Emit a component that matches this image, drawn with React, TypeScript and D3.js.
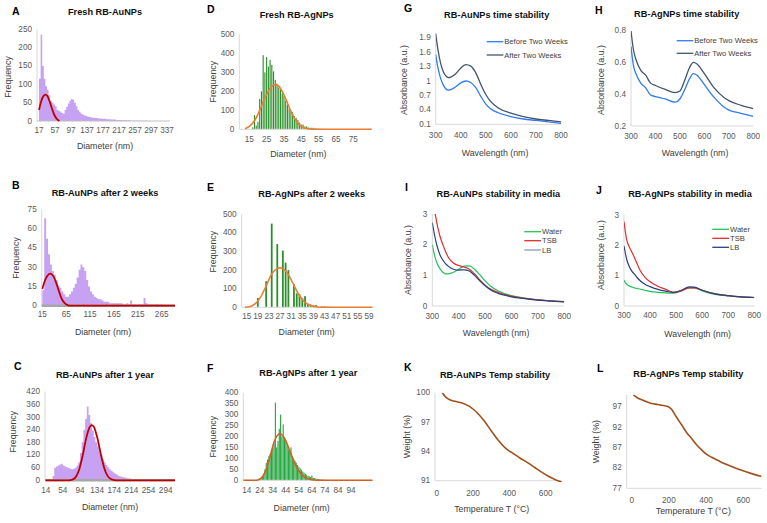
import React from 'react';
import * as d3 from 'd3';

const FONT = 'Liberation Sans, Arial, Helvetica, sans-serif';

// ---- size distributions (histogram counts) ----
// A: 4 nm bins from 17 nm
const aCounts = [115, 235, 150, 115, 95, 85, 70, 55, 50, 45, 40, 30, 28, 25, 22, 20, 30, 38, 48, 55, 60, 58, 50, 40, 30, 25, 20, 18, 15, 14, 12, 11, 10, 9, 9, 8, 8, 7, 7, 6, 6, 6, 5, 5, 5, 4, 4, 4, 3, 3, 3, 3, 2, 2, 2, 2, 2, 1, 1, 1, 1, 1, 1, 1, 1, 1, 1, 1, 0, 0, 0, 0, 0, 0, 0, 0, 0, 0, 0, 0];
// B: 4 nm bins from 15 nm
const bCounts = [12, 68, 52, 40, 32, 27, 24, 20, 16, 14, 11, 9, 7, 7, 9, 11, 14, 17, 22, 28, 32, 30, 27, 20, 15, 11, 9, 7, 6, 5, 5, 4, 3, 3, 3, 2, 2, 2, 2, 2, 2, 2, 1, 1, 2, 1, 4, 1, 1, 1, 1, 1, 1, 6, 2, 1, 1, 1, 1, 1, 1, 1, 1, 0, 0, 0, 0, 0, 0, 0];
// C: 4 nm bins from 14 nm
const cCounts = [0, 0, 0, 0, 20, 60, 65, 70, 75, 78, 70, 65, 62, 58, 55, 52, 55, 60, 70, 85, 130, 180, 240, 290, 350, 310, 270, 235, 205, 180, 160, 140, 120, 100, 85, 72, 62, 52, 45, 38, 32, 27, 22, 19, 16, 14, 12, 10, 9, 8, 6, 5, 4, 3, 3, 2, 2, 1, 1, 1, 0, 0, 0, 0, 0, 0, 0, 0, 0, 0, 0, 0, 0, 0, 0];
// D: 1 nm bins centred from 15 nm
const dCounts = [0, 0, 10, 75, 20, 40, 160, 200, 390, 300, 380, 330, 365, 340, 305, 260, 240, 220, 210, 190, 175, 150, 130, 110, 95, 90, 70, 60, 50, 35, 25, 25, 15, 15, 10, 8, 8, 8, 5, 5, 3, 3, 2, 2, 1, 1];
// E: 1 nm bins centred from 15 nm
const eCounts = [0, 0, 0, 0, 50, 0, 0, 140, 0, 450, 0, 340, 0, 305, 240, 200, 0, 125, 75, 70, 50, 60, 15, 15, 10, 12, 0, 5, 5, 3, 3, 2, 1, 1];
// F: 1 nm bins centred from 14 nm
const fCounts = [0, 0, 0, 0, 0, 0, 0, 0, 0, 2, 5, 10, 20, 30, 50, 80, 95, 110, 120, 140, 150, 170, 355, 150, 180, 235, 300, 200, 255, 195, 175, 160, 140, 130, 150, 110, 100, 90, 80, 70, 62, 55, 48, 40, 35, 30, 25, 20, 18, 15, 22, 12, 10, 8, 7, 6, 5, 4, 3, 3, 2, 2, 1, 1, 1];

// fitted normal curves as [diameter, frequency]
const aFit = [[17, 30], [22, 52], [27, 66], [33, 72], [38, 68], [44, 52], [50, 32], [56, 15], [62, 5], [68, 0]];
const bFit = [[15, 13], [20, 19], [25, 23], [32, 25], [38, 23], [44, 18], [50, 11], [56, 5], [62, 2], [68, 0.5], [74, 0], [294, 0]];
const cFit = [[14, 0], [68, 0], [76, 3], [84, 15], [92, 50], [100, 115], [108, 195], [116, 250], [121, 262], [126, 255], [134, 205], [142, 130], [150, 62], [158, 22], [166, 6], [174, 1], [182, 0], [316, 0]];
const dFit = [[12.5, 3], [15, 15], [18, 45], [21, 100], [24, 165], [27, 215], [30, 235], [33, 215], [36, 160], [39, 95], [42, 45], [45, 15], [48, 4], [51, 0], [86, 0]];
const eFit = [[14.4, 0], [16, 3], [18, 18], [20, 55], [22, 115], [24, 180], [26, 208], [27, 212], [28, 208], [30, 175], [32, 118], [34, 62], [36, 27], [38, 10], [40, 3], [42, 0], [60.3, 0]];
const fFit = [[11.4, 0], [20, 0], [23, 3], [26, 15], [29, 50], [32, 110], [35, 175], [38, 208], [39.5, 212], [41, 208], [44, 180], [47, 135], [50, 90], [53, 52], [56, 27], [59, 12], [62, 5], [65, 2], [68, 0], [110.6, 0]];

// ---- UV-vis spectra ----
const gWave = [300, 310, 320, 330, 340, 350, 360, 380, 400, 420, 440, 460, 480, 500, 520, 550, 600, 650, 700, 750, 800];
const gBefore = [1.55, 1.25, 1.05, 0.92, 0.84, 0.81, 0.82, 0.88, 0.96, 1.0, 0.97, 0.86, 0.68, 0.52, 0.42, 0.34, 0.26, 0.21, 0.18, 0.15, 0.12];
const gAfter = [1.98, 1.62, 1.36, 1.2, 1.11, 1.07, 1.08, 1.15, 1.27, 1.34, 1.31, 1.17, 0.93, 0.72, 0.57, 0.44, 0.33, 0.26, 0.21, 0.18, 0.15];

const hWave = [300, 310, 320, 340, 360, 380, 400, 440, 480, 500, 520, 540, 555, 570, 600, 640, 680, 700, 750, 800];
const hBefore = [0.7, 0.58, 0.53, 0.47, 0.44, 0.395, 0.385, 0.37, 0.35, 0.37, 0.43, 0.5, 0.53, 0.52, 0.46, 0.38, 0.32, 0.3, 0.28, 0.26];
const hAfter = [0.8, 0.68, 0.62, 0.55, 0.52, 0.47, 0.455, 0.43, 0.41, 0.42, 0.49, 0.57, 0.6, 0.59, 0.53, 0.44, 0.38, 0.36, 0.33, 0.31];

const iWave = [300, 310, 320, 330, 340, 350, 360, 380, 400, 420, 440, 460, 480, 500, 520, 550, 600, 650, 700, 750, 800];
const iWater = [2.0, 1.6, 1.35, 1.2, 1.1, 1.05, 1.05, 1.1, 1.2, 1.3, 1.31, 1.2, 1.02, 0.82, 0.65, 0.49, 0.34, 0.26, 0.2, 0.17, 0.14];
const iTsb = [3.6, 3.05, 2.6, 2.25, 2.0, 1.78, 1.6, 1.4, 1.32, 1.27, 1.2, 1.05, 0.85, 0.68, 0.55, 0.44, 0.32, 0.25, 0.2, 0.17, 0.14];
const iLb = [2.72, 2.25, 1.9, 1.65, 1.5, 1.38, 1.3, 1.2, 1.17, 1.18, 1.14, 1.0, 0.82, 0.66, 0.53, 0.41, 0.3, 0.24, 0.19, 0.16, 0.13];

const jWave = [300, 310, 320, 330, 340, 350, 360, 380, 400, 430, 460, 490, 520, 550, 570, 600, 650, 700, 750, 800];
const jWater = [0.85, 0.72, 0.66, 0.63, 0.6, 0.58, 0.56, 0.52, 0.48, 0.45, 0.43, 0.42, 0.5, 0.6, 0.6, 0.5, 0.38, 0.33, 0.3, 0.28];
const jTsb = [2.78, 2.2, 1.95, 1.78, 1.6, 1.4, 1.2, 0.95, 0.8, 0.65, 0.55, 0.45, 0.5, 0.6, 0.6, 0.52, 0.4, 0.34, 0.3, 0.28];
const jLb = [1.98, 1.55, 1.3, 1.15, 1.05, 0.94, 0.85, 0.72, 0.64, 0.55, 0.49, 0.45, 0.52, 0.63, 0.62, 0.52, 0.4, 0.34, 0.3, 0.28];

// ---- thermogravimetry ----
const kTemp = [31, 50, 75, 100, 140, 180, 220, 260, 300, 340, 380, 420, 460, 500, 540, 580, 620, 660, 690];
const kWeight = [100, 99.55, 99.25, 99.12, 98.95, 98.6, 98.0, 97.15, 96.1, 95.1, 94.3, 93.8, 93.3, 92.85, 92.35, 91.85, 91.4, 91.05, 90.85];
const lTemp = [9, 30, 54, 80, 107, 140, 170, 197, 215, 233, 250, 269, 295, 322, 350, 376, 403, 430, 465, 501, 545, 591, 645, 698];
const lWeight = [99.9, 99.2, 98.7, 98.2, 97.8, 97.55, 97.3, 97.0, 96.3, 95.0, 93.8, 92.5, 90.7, 89.2, 87.6, 86.4, 85.3, 84.6, 83.8, 83.0, 82.2, 81.4, 80.6, 79.9];

const range = (a: number, b: number, s: number) => d3.range(a, b + s / 2, s);

const PURPLE = '#c8a2f2';
const RED = '#c00000';
const ORANGE = '#ed7d31';
const BLUE = '#2f7bf5';
const SLATE = '#44546a';
const GREEN_L = '#22c25a';
const RED_L = '#e32b2b';
const NAVY = '#27417f';
const BROWN = '#a0501c';

type Pt = number[];
interface Series { pts: Pt[]; color: string; width: number }
interface Hist { counts: number[]; start: number; width: number; fill: string; kind: 'area' | 'bar'; frac?: number }
interface Spec {
  id: string;
  letter: string; letterPos: [number, number];
  title: string; titlePos: [number, number];
  xd: [number, number]; xr: [number, number];
  yd: [number, number]; yr: [number, number];
  axisL: number; axisR: number; yTop?: number;
  xTicks: number[]; yTicks: number[];
  xTickY: number;
  xTitle: string; xTitlePos: [number, number];
  yTitle: string; yTitlePos: [number, number];
  base?: { color: string; width: number };
  hist?: Hist;
  lines: Series[];
  legend?: { x0: number; x1: number; rows: number[]; labels: string[]; colors: string[] };
}

const zip = (xs: number[], ys: number[]) => xs.map((x, i) => [x, ys[i]]);
const fmt = (v: number) => String(+v.toFixed(1));

function Panel({ s }: { s: Spec }) {
  const x = d3.scaleLinear().domain(s.xd).range(s.xr);
  const y = d3.scaleLinear().domain(s.yd).range(s.yr);
  const bottom = s.yr[0];
  const top = y(s.yTop ?? s.yd[1]);
  const line = d3.line<Pt>().x((d) => x(d[0])).y((d) => y(d[1])).curve(d3.curveMonotoneX);
  const h = s.hist;

  let histMarks: React.ReactNode = null;
  if (h && h.kind === 'area') {
    // continuous step outline so narrow bins read as one filled shape
    const steps = [...h.counts, 0].map((c, i) => [h.start + i * h.width, c]);
    const area = d3.area<Pt>().x((d) => x(d[0])).y0(bottom).y1((d) => y(d[1])).curve(d3.curveStepAfter);
    histMarks = <path d={area(steps) ?? ''} fill={h.fill} />;
  } else if (h) {
    const half = (h.frac ?? 0.64) / 2;
    histMarks = h.counts.map((c, i) => {
      if (!c) return null;
      const cx = h.start + i * h.width;
      const x0 = x(cx - h.width * half);
      const x1 = x(cx + h.width * half);
      return <rect key={i} x={x0} width={x1 - x0} y={y(c)} height={bottom - y(c)} fill={h.fill} />;
    });
  }

  return (
    <g fontFamily={FONT}>
      <defs>
        <clipPath id={`clip-${s.id}`}>
          <rect x={s.axisL} y={top} width={s.axisR - s.axisL} height={bottom - top + 1.5} />
        </clipPath>
      </defs>
      <text x={s.letterPos[0]} y={s.letterPos[1]} fontSize={10.5} fontWeight="bold" fill="#000">{s.letter}</text>
      <text x={s.titlePos[0]} y={s.titlePos[1]} fontSize={9.2} fontWeight="bold" fill="#111" textAnchor="middle">{s.title}</text>
      <line x1={s.axisL} x2={s.axisL} y1={top} y2={bottom} stroke="#d9d9d9" />
      {histMarks}
      <line x1={s.axisL} x2={s.axisR} y1={bottom} y2={bottom} stroke={s.base?.color ?? '#d9d9d9'} strokeWidth={s.base?.width ?? 1} />
      <g clipPath={`url(#clip-${s.id})`}>
        {s.lines.map((l, i) => (
          <path key={i} d={line(l.pts) ?? ''} fill="none" stroke={l.color} strokeWidth={l.width} strokeLinejoin="round" />
        ))}
      </g>
      {s.yTicks.map((t) => (
        <text key={t} x={s.axisL - 5} y={y(t)} fontSize={8.2} fill="#595959" textAnchor="end" dominantBaseline="central">{fmt(t)}</text>
      ))}
      {s.xTicks.map((t) => (
        <text key={t} x={x(t)} y={s.xTickY} fontSize={8.2} fill="#595959" textAnchor="middle">{t}</text>
      ))}
      <text x={s.xTitlePos[0]} y={s.xTitlePos[1]} fontSize={8.8} fill="#404040" textAnchor="middle">{s.xTitle}</text>
      <text transform={`translate(${s.yTitlePos[0]},${s.yTitlePos[1]}) rotate(-90)`} fontSize={8.8} fill="#404040" textAnchor="middle" dominantBaseline="central">{s.yTitle}</text>
      {s.legend && s.legend.labels.map((lab, i) => (
        <g key={lab}>
          <line x1={s.legend!.x0} x2={s.legend!.x1} y1={s.legend!.rows[i]} y2={s.legend!.rows[i]} stroke={s.legend!.colors[i]} strokeWidth={1.3} />
          <text x={s.legend!.x1 + 1} y={s.legend!.rows[i]} fontSize={7.6} fill="#404040" dominantBaseline="central">{lab}</text>
        </g>
      ))}
    </g>
  );
}

const specs: Spec[] = [
  {
    id: 'A', letter: 'A', letterPos: [12, 15], title: 'Fresh RB-AuNPs', titlePos: [105, 15],
    xd: [17, 337], xr: [39, 167], yd: [0, 250], yr: [121, 29.3], axisL: 37, axisR: 170,
    xTicks: range(17, 337, 40), yTicks: range(0, 250, 50), xTickY: 133,
    xTitle: 'Diameter (nm)', xTitlePos: [105, 149], yTitle: 'Frequency', yTitlePos: [8, 77],
    base: { color: '#bfbfbf', width: 1 },
    hist: { counts: aCounts, start: 17, width: 4, fill: PURPLE, kind: 'area' },
    lines: [{ pts: aFit, color: RED, width: 1.8 }],
  },
  {
    id: 'B', letter: 'B', letterPos: [12, 189], title: 'RB-AuNPs after 2 weeks', titlePos: [105, 196],
    xd: [15, 265], xr: [42.3, 161.7], yd: [0, 75], yr: [305.7, 209.3], axisL: 41.7, axisR: 175,
    xTicks: range(15, 265, 50), yTicks: range(0, 75, 15), xTickY: 316.7,
    xTitle: 'Diameter (nm)', xTitlePos: [103, 335], yTitle: 'Frequency', yTitlePos: [15.5, 258],
    base: { color: '#a6a6a6', width: 2.5 },
    hist: { counts: bCounts, start: 15, width: 4, fill: PURPLE, kind: 'area' },
    lines: [{ pts: bFit, color: RED, width: 1.8 }],
  },
  {
    id: 'C', letter: 'C', letterPos: [14, 370], title: 'RB-AuNPs after 1 year', titlePos: [105, 378.3],
    xd: [14, 294], xr: [45.7, 165.7], yd: [0, 420], yr: [480.3, 391.7], axisL: 45, axisR: 175,
    xTicks: range(14, 294, 40), yTicks: range(0, 420, 60), xTickY: 493.3,
    xTitle: 'Diameter (nm)', xTitlePos: [110, 510], yTitle: 'Frequency', yTitlePos: [13.3, 431.7],
    base: { color: '#a6a6a6', width: 2.5 },
    hist: { counts: cCounts, start: 14, width: 4, fill: PURPLE, kind: 'area' },
    lines: [{ pts: cFit, color: RED, width: 1.8 }],
  },
  {
    id: 'D', letter: 'D', letterPos: [207, 12.7], title: 'Fresh RB-AgNPs', titlePos: [296.7, 18.3],
    xd: [15, 75], xr: [249.3, 353.3], yd: [0, 500], yr: [129.3, 34.3], axisL: 239.3, axisR: 371.7,
    xTicks: range(15, 75, 10), yTicks: range(0, 500, 100), xTickY: 141.7,
    xTitle: 'Diameter (nm)', xTitlePos: [298.3, 156.7], yTitle: 'Frequency', yTitlePos: [213.3, 81.7],
    hist: { counts: dCounts, start: 15, width: 1, fill: '#2a8f2a', kind: 'bar' },
    lines: [{ pts: dFit, color: ORANGE, width: 1.6 }],
  },
  {
    id: 'E', letter: 'E', letterPos: [207, 190.7], title: 'RB-AgNPs after 2 weeks', titlePos: [311.7, 197.3],
    xd: [15, 59], xr: [246.7, 369], yd: [0, 500], yr: [307.3, 214.3], axisL: 241.7, axisR: 372.7,
    xTicks: range(15, 59, 4), yTicks: range(0, 500, 100), xTickY: 319.3,
    xTitle: 'Diameter (nm)', xTitlePos: [306.7, 335], yTitle: 'Frequency', yTitlePos: [212.7, 251.7],
    hist: { counts: eCounts, start: 15, width: 1, fill: '#2a8f2a', kind: 'bar' },
    lines: [{ pts: eFit, color: ORANGE, width: 1.6 }],
  },
  {
    id: 'F', letter: 'F', letterPos: [207, 371.7], title: 'RB-AgNPs after 1 year', titlePos: [308.3, 375.7],
    xd: [14, 94], xr: [246.7, 351], yd: [0, 400], yr: [480.3, 392.7], axisL: 243.3, axisR: 372.7,
    xTicks: range(14, 94, 10), yTicks: range(0, 400, 50), xTickY: 493.3,
    xTitle: 'Diameter (nm)', xTitlePos: [301.7, 511], yTitle: 'Frequency', yTitlePos: [213.3, 436.7],
    hist: { counts: fCounts, start: 14, width: 1, fill: '#25a641', kind: 'bar', frac: 0.85 },
    lines: [{ pts: fFit, color: '#d2601f', width: 1.6 }],
  },
  {
    id: 'G', letter: 'G', letterPos: [404, 11.7], title: 'RB-AuNPs time stability', titlePos: [496.7, 18.3],
    xd: [300, 800], xr: [435.7, 561], yd: [0.1, 1.9], yr: [124.3, 37.7], axisL: 435.7, axisR: 561, yTop: 2.0,
    xTicks: range(300, 800, 100), yTicks: range(0.1, 1.9, 0.3), xTickY: 137.7,
    xTitle: 'Wavelength (nm)', xTitlePos: [495, 155.7], yTitle: 'Absorbance (a.u.)', yTitlePos: [404.3, 80],
    lines: [
      { pts: zip(gWave, gBefore), color: BLUE, width: 1.3 },
      { pts: zip(gWave, gAfter), color: SLATE, width: 1.3 },
    ],
    legend: { x0: 486.7, x1: 503.3, rows: [41.7, 55], labels: ['Before Two Weeks', 'After Two Weeks'], colors: [BLUE, SLATE] },
  },
  {
    id: 'H', letter: 'H', letterPos: [595, 14], title: 'RB-AgNPs time stability', titlePos: [686.7, 17.3],
    xd: [300, 800], xr: [631, 753.3], yd: [0.2, 0.8], yr: [126, 30.7], axisL: 631, axisR: 753.3,
    xTicks: range(300, 800, 100), yTicks: range(0.2, 0.8, 0.2), xTickY: 139.3,
    xTitle: 'Wavelength (nm)', xTitlePos: [695, 155.7], yTitle: 'Absorbance (a.u.)', yTitlePos: [601, 80],
    lines: [
      { pts: zip(hWave, hBefore), color: BLUE, width: 1.3 },
      { pts: zip(hWave, hAfter), color: SLATE, width: 1.3 },
    ],
    legend: { x0: 676.7, x1: 693.3, rows: [40.7, 53.3], labels: ['Before Two Weeks', 'After Two Weeks'], colors: [BLUE, SLATE] },
  },
  {
    id: 'I', letter: 'I', letterPos: [405, 190.7], title: 'RB-AuNPs stability in media', titlePos: [498.3, 197.3],
    xd: [300, 800], xr: [432.3, 564.3], yd: [0, 3], yr: [306, 214], axisL: 432.3, axisR: 564.3,
    xTicks: range(300, 800, 100), yTicks: range(0, 3, 1), xTickY: 319.3,
    xTitle: 'Wavelength (nm)', xTitlePos: [496, 336], yTitle: 'Absorbance (a.u.)', yTitlePos: [407.7, 260],
    lines: [
      { pts: zip(iWave, iWater), color: GREEN_L, width: 1.2 },
      { pts: zip(iWave, iTsb), color: RED_L, width: 1.2 },
      { pts: zip(iWave, iLb), color: NAVY, width: 1.2 },
    ],
    legend: { x0: 524.3, x1: 541, rows: [231.7, 240.7, 250], labels: ['Water', 'TSB', 'LB'], colors: [GREEN_L, RED_L, '#8596c8'] },
  },
  {
    id: 'J', letter: 'J', letterPos: [596, 194], title: 'RB-AgNPs stability in media', titlePos: [690, 196.7],
    xd: [300, 800], xr: [624, 754.3], yd: [0, 3], yr: [306, 215], axisL: 624, axisR: 754.3,
    xTicks: range(300, 800, 100), yTicks: range(0, 3, 1), xTickY: 318.3,
    xTitle: 'Wavelength (nm)', xTitlePos: [697.7, 336.7], yTitle: 'Absorbance (a.u.)', yTitlePos: [601, 255],
    lines: [
      { pts: zip(jWave, jWater), color: GREEN_L, width: 1.2 },
      { pts: zip(jWave, jTsb), color: RED_L, width: 1.2 },
      { pts: zip(jWave, jLb), color: NAVY, width: 1.2 },
    ],
    legend: { x0: 712.3, x1: 729, rows: [229.3, 238.3, 247.3], labels: ['Water', 'TSB', 'LB'], colors: [GREEN_L, RED_L, NAVY] },
  },
  {
    id: 'K', letter: 'K', letterPos: [404, 371], title: 'RB-AuNPs Temp stability', titlePos: [495, 377.7],
    xd: [0, 600], xr: [436.7, 545.7], yd: [91, 100], yr: [480.7, 392.7], axisL: 435, axisR: 561.7,
    xTicks: range(0, 600, 200), yTicks: range(91, 100, 3), xTickY: 495.7,
    xTitle: 'Temperature T (°C)', xTitlePos: [491.7, 512.3], yTitle: 'Weight (%)', yTitlePos: [406.7, 436.7],
    lines: [{ pts: zip(kTemp, kWeight), color: BROWN, width: 1.6 }],
  },
  {
    id: 'L', letter: 'L', letterPos: [597, 371.7], title: 'RB-AgNPs Temp stability', titlePos: [688.3, 377.3],
    xd: [0, 600], xr: [631.7, 743.3], yd: [77, 97], yr: [488.3, 406.7], axisL: 626.7, axisR: 761.7, yTop: 100,
    xTicks: range(0, 600, 200), yTicks: range(77, 97, 5), xTickY: 503.3,
    xTitle: 'Temperature T (°C)', xTitlePos: [693.3, 514.3], yTitle: 'Weight (%)', yTitlePos: [595.7, 441.7],
    lines: [{ pts: zip(lTemp, lWeight), color: BROWN, width: 1.6 }],
  },
];

export default function App() {
  return (
    <div style={{ position: 'absolute', left: 0, top: 0 }}>
      <svg width={767} height={523} viewBox="0 0 767 523" style={{ display: 'block', background: '#fff' }}>
        <rect width={767} height={523} fill="#fff" />
        {specs.map((s) => <Panel key={s.id} s={s} />)}
      </svg>
    </div>
  );
}
